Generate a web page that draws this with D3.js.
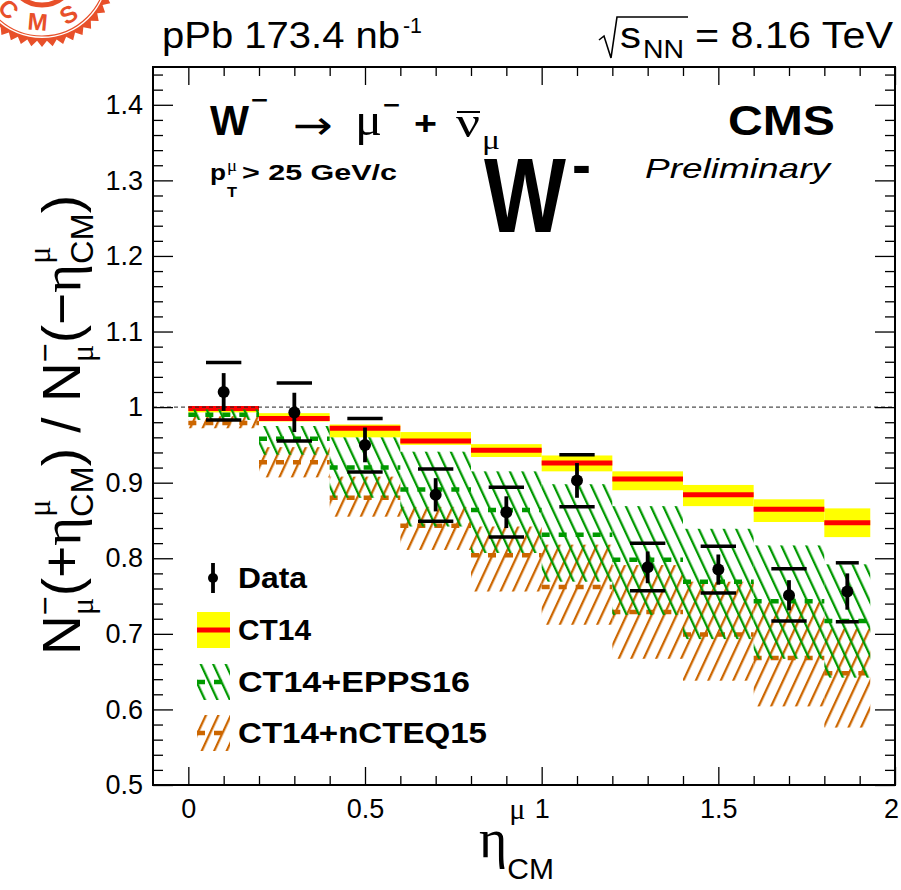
<!DOCTYPE html>
<html>
<head>
<meta charset="utf-8">
<script src="https://cdn.jsdelivr.net/npm/d3@7"></script>
<style>
  body { margin: 0; background: #fff; }
  svg { display: block; }
</style>
</head>
<body>
<svg id="chart" width="901" height="890"></svg>
<script>
// ---- eta_CM bins ----
const binLow  = [0.0, 0.2, 0.4, 0.6, 0.8, 1.0, 1.2, 1.4, 1.6, 1.8];
const binHigh = [0.2, 0.4, 0.6, 0.8, 1.0, 1.2, 1.4, 1.6, 1.8, 1.93];

// ---- measured forward/backward ratio ----
const dataValue   = [1.020, 0.993, 0.950, 0.884, 0.861, 0.903, 0.788, 0.785, 0.751, 0.756];
const dataStat    = [0.025, 0.026, 0.023, 0.022, 0.021, 0.023, 0.021, 0.020, 0.020, 0.024];
const dataSysHigh = [1.059, 1.032, 0.985, 0.918, 0.894, 0.937, 0.820, 0.816, 0.786, 0.794];
const dataSysLow  = [0.983, 0.955, 0.914, 0.849, 0.828, 0.868, 0.757, 0.754, 0.717, 0.716];

// ---- predictions ----
const ct14        = [0.998, 0.985, 0.972, 0.955, 0.943, 0.926, 0.905, 0.884, 0.865, 0.847];
const ct14High    = [1.001, 0.992, 0.977, 0.967, 0.951, 0.936, 0.915, 0.897, 0.878, 0.866];
const ct14Low     = [0.993, 0.981, 0.960, 0.950, 0.934, 0.915, 0.890, 0.869, 0.848, 0.828];
const epps16      = [0.990, 0.958, 0.920, 0.891, 0.864, 0.831, 0.798, 0.769, 0.743, 0.717];
const epps16High  = [0.997, 0.975, 0.960, 0.941, 0.915, 0.898, 0.869, 0.839, 0.817, 0.792];
const epps16Low   = [0.983, 0.937, 0.880, 0.842, 0.807, 0.769, 0.725, 0.693, 0.667, 0.642];
const ncteq15     = [0.979, 0.927, 0.880, 0.843, 0.804, 0.762, 0.729, 0.699, 0.668, 0.648];
const ncteq15High = [0.988, 0.947, 0.908, 0.868, 0.842, 0.818, 0.791, 0.769, 0.742, 0.707];
const ncteq15Low  = [0.972, 0.907, 0.855, 0.811, 0.756, 0.712, 0.667, 0.638, 0.604, 0.576];

// ---- axis ticks ----
const xMajorTicks = [0, 0.5, 1, 1.5, 2];
const xMinorTicks = [0.1, 0.2, 0.3, 0.4, 0.6, 0.7, 0.8, 0.9, 1.1, 1.2, 1.3, 1.4, 1.6, 1.7, 1.8, 1.9];
const yMajorTicks = [0.5, 0.6, 0.7, 0.8, 0.9, 1, 1.1, 1.2, 1.3, 1.4];
const yMinorTicks = d3.range(26, 73).filter(i => i % 5 !== 0).map(i => i / 50);

const legendLabels = ["Data", "CT14", "CT14+EPPS16", "CT14+nCTEQ15"];

const SANS = "'Liberation Sans', Arial, Helvetica, sans-serif";
const SERIF = "'Liberation Serif', 'Times New Roman', serif";
const YELLOW = "#ffff00", RED = "#ff0000", GREEN = "#009900", ORANGE = "#cc6600";

const svg = d3.select("#chart");
const defs = svg.append("defs");

const x = d3.scaleLinear().domain([-0.1, 2.0]).range([153, 895]);
const y = d3.scaleLinear().domain([0.5, 1.45]).range([785, 67]);
const [X0, X1] = x.range();
const [Y0, Y1] = y.range();

// hatch patterns
function hatch(id, color, angle) {
  const p = defs.append("pattern").attr("id", id)
    .attr("patternUnits", "userSpaceOnUse")
    .attr("width", 11.3).attr("height", 12)
    .attr("patternTransform", `rotate(${angle})`);
  p.append("line").attr("x1", 3).attr("x2", 3).attr("y1", -1).attr("y2", 13)
    .attr("stroke", color).attr("stroke-width", 2.3);
}
hatch("hatchGreen", GREEN, -25);
hatch("hatchOrange", ORANGE, 25);

const bins = binLow.map((lo, i) => ({
  lo, hi: binHigh[i], c: (lo + binHigh[i]) / 2,
  v: dataValue[i], stat: dataStat[i], sHi: dataSysHigh[i], sLo: dataSysLow[i],
  ct: ct14[i], ctHi: ct14High[i], ctLo: ct14Low[i],
  ep: epps16[i], epHi: epps16High[i], epLo: epps16Low[i],
  nc: ncteq15[i], ncHi: ncteq15High[i], ncLo: ncteq15Low[i]
}));

const plot = svg.append("g");

// CT14 band
plot.selectAll("rect.ct").data(bins).join("rect").attr("class", "ct")
  .attr("x", d => x(d.lo)).attr("width", d => x(d.hi) - x(d.lo))
  .attr("y", d => y(d.ctHi)).attr("height", d => y(d.ctLo) - y(d.ctHi))
  .attr("fill", YELLOW);
plot.selectAll("line.ct").data(bins).join("line").attr("class", "ct")
  .attr("x1", d => x(d.lo)).attr("x2", d => x(d.hi))
  .attr("y1", d => y(d.ct)).attr("y2", d => y(d.ct))
  .attr("stroke", RED).attr("stroke-width", 5);

// nCTEQ15 band
plot.selectAll("rect.nc").data(bins).join("rect").attr("class", "nc")
  .attr("x", d => x(d.lo)).attr("width", d => x(d.hi) - x(d.lo))
  .attr("y", d => y(d.ncHi)).attr("height", d => y(d.ncLo) - y(d.ncHi))
  .attr("fill", "url(#hatchOrange)");
plot.selectAll("line.nc").data(bins).join("line").attr("class", "nc")
  .attr("x1", d => x(d.lo)).attr("x2", d => x(d.hi))
  .attr("y1", d => y(d.nc)).attr("y2", d => y(d.nc))
  .attr("stroke", ORANGE).attr("stroke-width", 4.5).attr("stroke-dasharray", "8,9");

// EPPS16 band
plot.selectAll("rect.ep").data(bins).join("rect").attr("class", "ep")
  .attr("x", d => x(d.lo)).attr("width", d => x(d.hi) - x(d.lo))
  .attr("y", d => y(d.epHi)).attr("height", d => y(d.epLo) - y(d.epHi))
  .attr("fill", "url(#hatchGreen)");
plot.selectAll("line.ep").data(bins).join("line").attr("class", "ep")
  .attr("x1", d => x(d.lo)).attr("x2", d => x(d.hi))
  .attr("y1", d => y(d.ep)).attr("y2", d => y(d.ep))
  .attr("stroke", GREEN).attr("stroke-width", 4.5).attr("stroke-dasharray", "8,9");

// unity reference line
plot.append("line").attr("x1", X0).attr("x2", X1).attr("y1", y(1)).attr("y2", y(1))
  .attr("stroke", "#222").attr("stroke-width", 1).attr("stroke-dasharray", "4,3");

// data: systematic caps, statistical bars, markers
plot.selectAll("line.sysHi").data(bins).join("line").attr("class", "sysHi")
  .attr("x1", d => x(d.c - (d.hi - d.lo) / 4)).attr("x2", d => x(d.c + (d.hi - d.lo) / 4))
  .attr("y1", d => y(d.sHi)).attr("y2", d => y(d.sHi))
  .attr("stroke", "#000").attr("stroke-width", 3.5);
plot.selectAll("line.sysLo").data(bins).join("line").attr("class", "sysLo")
  .attr("x1", d => x(d.c - (d.hi - d.lo) / 4)).attr("x2", d => x(d.c + (d.hi - d.lo) / 4))
  .attr("y1", d => y(d.sLo)).attr("y2", d => y(d.sLo))
  .attr("stroke", "#000").attr("stroke-width", 3.5);
plot.selectAll("line.stat").data(bins).join("line").attr("class", "stat")
  .attr("x1", d => x(d.c)).attr("x2", d => x(d.c))
  .attr("y1", d => y(d.v + d.stat)).attr("y2", d => y(d.v - d.stat))
  .attr("stroke", "#000").attr("stroke-width", 3.8);
plot.selectAll("circle.pt").data(bins).join("circle").attr("class", "pt")
  .attr("cx", d => x(d.c)).attr("cy", d => y(d.v)).attr("r", 6).attr("fill", "#000");

// ---- axes (ticks on all four sides, pointing inward) ----
function styleAxis(g) {
  g.select(".domain").remove();
  g.selectAll(".tick line").attr("stroke", "#000").attr("stroke-width", 1.3);
  g.selectAll("text").style("font-family", SANS).style("font-size", "27px").attr("fill", "#000");
}
svg.append("g").attr("transform", `translate(0,${Y0})`)
  .call(d3.axisBottom(x).tickValues(xMinorTicks).tickSize(-9).tickFormat(""))
  .call(styleAxis);
const xAxisG = svg.append("g").attr("transform", `translate(0,${Y0})`)
  .call(d3.axisBottom(x).tickValues(xMajorTicks).tickSize(-18).tickPadding(14).tickFormat(d => String(d)))
  .call(styleAxis);
// the last label sits against the canvas edge
xAxisG.selectAll(".tick text").filter(d => d === 2).attr("dx", -4);
svg.append("g").attr("transform", `translate(0,${Y1})`)
  .call(d3.axisTop(x).tickValues(xMinorTicks).tickSize(-9).tickFormat(""))
  .call(styleAxis);
svg.append("g").attr("transform", `translate(0,${Y1})`)
  .call(d3.axisTop(x).tickValues(xMajorTicks).tickSize(-18).tickFormat(""))
  .call(styleAxis);
svg.append("g").attr("transform", `translate(${X0},0)`)
  .call(d3.axisLeft(y).tickValues(yMinorTicks).tickSize(-10).tickFormat(""))
  .call(styleAxis);
svg.append("g").attr("transform", `translate(${X0},0)`)
  .call(d3.axisLeft(y).tickValues(yMajorTicks).tickSize(-20).tickPadding(10).tickFormat(d => String(d)))
  .call(styleAxis);
svg.append("g").attr("transform", `translate(${X1},0)`)
  .call(d3.axisRight(y).tickValues(yMinorTicks).tickSize(-10).tickFormat(""))
  .call(styleAxis);
svg.append("g").attr("transform", `translate(${X1},0)`)
  .call(d3.axisRight(y).tickValues(yMajorTicks).tickSize(-20).tickFormat(""))
  .call(styleAxis);

svg.append("rect").attr("x", X0).attr("y", Y1).attr("width", X1 - X0).attr("height", Y0 - Y1)
  .attr("fill", "none").attr("stroke", "#000").attr("stroke-width", 2);

// ---- text helpers ----
function label(parent, str, opts) {
  const t = parent.append("text")
    .attr("x", opts.x).attr("y", opts.y)
    .style("font-family", opts.family || SANS)
    .style("font-size", opts.size + "px")
    .style("font-weight", opts.weight || "normal")
    .style("font-style", opts.style || "normal")
    .attr("fill", opts.fill || "#000")
    .text(str);
  if (opts.anchor) t.attr("text-anchor", opts.anchor);
  if (opts.len) t.attr("textLength", opts.len).attr("lengthAdjust", "spacingAndGlyphs");
  return t;
}

// pieces laid out left to right; "stack" shares its x with the previous piece
function richText(parent, pieces) {
  const g = parent.append("g");
  let cx = 0, groupStart = 0, groupEnd = 0;
  pieces.forEach(p => {
    const startX = p.stack ? groupStart : cx;
    const t = label(g, p.t, { x: startX + (p.dx || 0), y: p.dy || 0, size: p.size,
      family: p.family, weight: p.weight, style: p.style });
    const w = t.node().getComputedTextLength() + (p.dx || 0);
    if (p.stack) {
      groupEnd = Math.max(groupEnd, startX + w);
      cx = groupEnd;
    } else {
      groupStart = startX;
      cx = startX + w;
      groupEnd = cx;
    }
  });
  return { g, width: cx };
}

// ---- header ----
label(svg, "pPb 173.4 nb", { x: 162, y: 48, size: 36, len: 238 });
label(svg, "-1", { x: 403, y: 33, size: 22, len: 19 });

svg.append("path")
  .attr("d", "M599,40 L604,36 L611,58 L617,17 L688,17")
  .attr("fill", "none").attr("stroke", "#000").attr("stroke-width", 1.6);
label(svg, "s", { x: 620, y: 48, size: 36, len: 21 });
label(svg, "NN", { x: 643, y: 58, size: 25, len: 41 });
label(svg, "= 8.16 TeV", { x: 695, y: 48, size: 36, len: 198 });

// ---- process label ----
label(svg, "W", { x: 210, y: 135, size: 43, weight: "bold", len: 39 });
label(svg, "\u2212", { x: 251, y: 108, size: 24, weight: "bold", len: 17 });
label(svg, "\u2192", { x: 293, y: 139, size: 40, family: "'DejaVu Sans', sans-serif", len: 40 });
label(svg, "\u03bc", { x: 355, y: 135, size: 46, family: SERIF, len: 27 });
label(svg, "\u2212", { x: 383, y: 113, size: 24, weight: "bold", len: 17 });
label(svg, "+", { x: 414, y: 135, size: 34, weight: "bold", len: 23 });
label(svg, "\u03bd", { x: 456, y: 137, size: 44, family: SERIF, len: 24 });
svg.append("line").attr("x1", 457).attr("x2", 480).attr("y1", 112).attr("y2", 112)
  .attr("stroke", "#000").attr("stroke-width", 2);
label(svg, "\u03bc", { x: 482, y: 149, size: 28, family: SERIF, len: 18 });

label(svg, "p", { x: 210, y: 180, size: 22, weight: "bold", len: 16 });
label(svg, "\u03bc", { x: 227, y: 171, size: 16, family: SERIF, len: 10 });
label(svg, "T", { x: 227, y: 197, size: 15, weight: "bold", len: 10 });
label(svg, "> 25 GeV/c", { x: 242, y: 180, size: 22, weight: "bold", len: 155 });

// large boson label
label(svg, "W", { x: 484, y: 232, size: 106, weight: "bold", len: 82 });
label(svg, "-", { x: 572, y: 185, size: 60, weight: "bold", len: 19 });

label(svg, "CMS", { x: 728, y: 135, size: 42, weight: "bold", len: 107 });
label(svg, "Preliminary", { x: 645, y: 178, size: 28, style: "italic", len: 185 });

// ---- legend ----
const legendRowY = [578, 630, 682, 733];
const legendTextLen = [69, 73, 232, 249];
const lg = svg.append("g");
// Data marker
lg.append("line").attr("x1", 213).attr("x2", 213).attr("y1", legendRowY[0] - 15).attr("y2", legendRowY[0] + 15)
  .attr("stroke", "#000").attr("stroke-width", 3.8);
lg.append("circle").attr("cx", 213).attr("cy", legendRowY[0]).attr("r", 5).attr("fill", "#000");
// CT14 swatch
lg.append("rect").attr("x", 197).attr("y", legendRowY[1] - 18).attr("width", 33).attr("height", 36).attr("fill", YELLOW);
lg.append("line").attr("x1", 197).attr("x2", 230).attr("y1", legendRowY[1]).attr("y2", legendRowY[1])
  .attr("stroke", RED).attr("stroke-width", 5);
// EPPS16 swatch
lg.append("rect").attr("x", 197).attr("y", legendRowY[2] - 18).attr("width", 33).attr("height", 36).attr("fill", "url(#hatchGreen)");
lg.append("line").attr("x1", 197).attr("x2", 230).attr("y1", legendRowY[2]).attr("y2", legendRowY[2])
  .attr("stroke", GREEN).attr("stroke-width", 4.5).attr("stroke-dasharray", "8,9");
// nCTEQ15 swatch
lg.append("rect").attr("x", 197).attr("y", legendRowY[3] - 18).attr("width", 33).attr("height", 36).attr("fill", "url(#hatchOrange)");
lg.append("line").attr("x1", 197).attr("x2", 230).attr("y1", legendRowY[3]).attr("y2", legendRowY[3])
  .attr("stroke", ORANGE).attr("stroke-width", 4.5).attr("stroke-dasharray", "8,9");
legendLabels.forEach((s, i) =>
  label(lg, s, { x: 238, y: legendRowY[i] + 10, size: 29, weight: "bold", len: legendTextLen[i] }));

// ---- axis titles ----
const xt = richText(svg, [
  { t: "\u03b7", size: 54, family: SERIF },
  { t: "\u03bc", size: 30, family: SERIF, dy: -38, dx: 2 },
  { t: "CM", size: 30, dy: 22, stack: true }
]);
xt.g.attr("transform", "translate(479,857)");

const yTitleParts = [
  { t: "N", size: 54 },
  { t: "\u2212", size: 32, dy: -24 },
  { t: "\u03bc", size: 32, family: SERIF, dy: 13, stack: true },
  { t: "(+", size: 54 },
  { t: "\u03b7", size: 54, family: SERIF },
  { t: "\u03bc", size: 32, family: SERIF, dy: -30 },
  { t: "CM", size: 32, dy: 13, stack: true },
  { t: ") / N", size: 54 },
  { t: "\u2212", size: 32, dy: -24 },
  { t: "\u03bc", size: 32, family: SERIF, dy: 13, stack: true },
  { t: "(\u2212", size: 54 },
  { t: "\u03b7", size: 54, family: SERIF },
  { t: "\u03bc", size: 32, family: SERIF, dy: -30 },
  { t: "CM", size: 32, dy: 13, stack: true },
  { t: ")", size: 54 }
];
const yt = richText(svg, yTitleParts);
const ySx = 460 / yt.width;
yt.g.attr("transform", `translate(80,655) rotate(-90) scale(${ySx},1)`);

// ---- experiment seal (top-left corner) ----
{
  const seal = svg.append("g").attr("transform", "translate(42,-28)");
  const col = "#e8502a";
  const nTeeth = 44, rOut = 75, rIn = 69;
  const pts = d3.range(nTeeth * 2).map(k => {
    const a = (k / (nTeeth * 2)) * 2 * Math.PI;
    const r = k % 2 === 0 ? rOut : rIn;
    return [r * Math.cos(a), r * Math.sin(a)];
  });
  seal.append("path").attr("d", "M" + pts.join("L") + "Z").attr("fill", col);
  seal.append("circle").attr("r", 66).attr("fill", "#fff");
  seal.append("circle").attr("r", 64).attr("fill", "none").attr("stroke", col).attr("stroke-width", 1.2);
  seal.append("circle").attr("r", 33).attr("fill", "none").attr("stroke", col).attr("stroke-width", 5);
  const letters = [["C", 132], ["M", 95], ["S", 58]];
  letters.forEach(([ch, ang]) => {
    const a = ang * Math.PI / 180, r = 50;
    seal.append("text")
      .attr("transform", `translate(${r * Math.cos(a)},${r * Math.sin(a)}) rotate(${ang - 90})`)
      .attr("text-anchor", "middle").attr("dy", "0.35em")
      .style("font-family", SANS).style("font-size", "24px").style("font-weight", "bold")
      .attr("fill", col).text(ch);
  });
}
</script>
</body>
</html>
